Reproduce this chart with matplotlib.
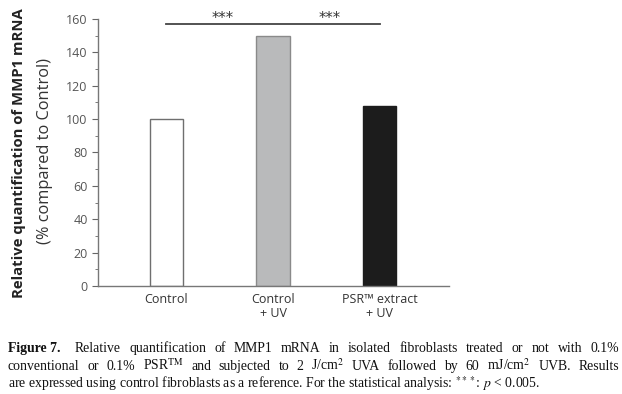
import matplotlib
matplotlib.use("Agg")
from matplotlib import pyplot as plt

groups = ["Control", "Control\n+ UV", "PSR™ extract\n+ UV"]
values = [100, 150, 108]
bar_colors = ["#ffffff", "#b9babb", "#1c1c1c"]
edge_colors = ["#6f6f6f", "#8a8a8a", "#1c1c1c"]
yticks = [0, 20, 40, 60, 80, 100, 120, 140, 160]
sig_y = 157
sig_pairs = [(0, 1), (1, 2)]

caption_lines = [
    "Relative quantification of MMP1 mRNA in isolated fibroblasts treated or not with 0.1%",
    "conventional or 0.1% PSR$^{\\mathrm{TM}}$ and subjected to 2 J/cm$^2$ UVA followed by 60 mJ/cm$^2$ UVB. Results",
    "are expressed using control fibroblasts as a reference. For the statistical analysis: $^{***}$: $p$ < 0.005.",
]

plt.rcParams["mathtext.fontset"] = "stix"

W, H = 622, 394
fig = plt.figure(figsize=(W / 100, H / 100), dpi=100)
ax = fig.add_axes([0.1576, 0.274, 0.5644, 0.678])

x = list(range(len(groups)))
ax.bar(x, values, width=0.31, color=bar_colors, edgecolor=edge_colors, linewidth=1.0, zorder=2)

ax.set_xlim(-0.64, 2.65)
ax.set_ylim(0, 160)
ax.set_yticks(yticks)
ax.set_yticks(range(0, 161, 10), minor=True)
ax.set_xticks(x)
ax.set_xticklabels(groups, family="Open Sans", fontsize=9, color="#333333", linespacing=1.1)
ax.tick_params(axis="x", length=0, pad=5)
ax.tick_params(axis="y", which="major", length=4, direction="out", labelsize=9,
               labelcolor="#555555", color="#666666")
ax.tick_params(axis="y", which="minor", length=2.5, direction="out", color="#666666")
for lab in ax.get_yticklabels():
    lab.set_family("Open Sans")

for s in ["top", "right"]:
    ax.spines[s].set_visible(False)
for s in ["left", "bottom"]:
    ax.spines[s].set_color("#777777")
    ax.spines[s].set_linewidth(1.0)

# significance bar
ax.plot([sig_pairs[0][0], sig_pairs[-1][1]], [sig_y, sig_y], color="#444444", lw=1.3,
        clip_on=False, zorder=3)
for a, b in sig_pairs:
    ax.text((a + b) / 2 + 0.03, sig_y - 1.5, "***", ha="center", va="bottom", fontsize=10.5,
            color="#333333", family="DejaVu Sans")

fig.text(0.031, 1 - 153.5 / H, "Relative quantification of MMP1 mRNA", rotation=90, ha="center",
         va="center", fontsize=10.7, fontweight="bold", family="Open Sans", color="#222222")
fig.text(0.072, 1 - 151 / H, "(% compared to Control)", rotation=90, ha="center", va="center",
         fontsize=11.8, family="Open Sans", color="#333333")

# caption, lines 1 and 2 justified like the journal layout
cap = dict(fontsize=9.9, family="Liberation Serif", color="#111111", va="baseline")
renderer = fig.canvas.get_renderer()


def justify(tokens, y, x0, x1, first_gap=0.0):
    texts = [fig.text(0, 1 - y / H, w, **kw) for w, kw in tokens]
    widths = [t.get_window_extent(renderer).width for t in texts]
    gap = (x1 - x0 - sum(widths) - first_gap) / (len(texts) - 1)
    xp = x0
    for i, (t, w) in enumerate(zip(texts, widths)):
        t.set_x(xp / W)
        xp += w + gap + (first_gap if i == 0 else 0)


bold = dict(cap, fontweight="bold")
line1 = [("Figure 7.", bold)] + [(w, cap) for w in caption_lines[0].split(" ")]
justify(line1, 352, 8, 619, first_gap=6)
justify([(w, cap) for w in caption_lines[1].split(" ")], 370, 8, 619)
fig.text(8 / W, 1 - 388 / H, caption_lines[2], **cap)

fig.savefig("out.png", dpi=100)
